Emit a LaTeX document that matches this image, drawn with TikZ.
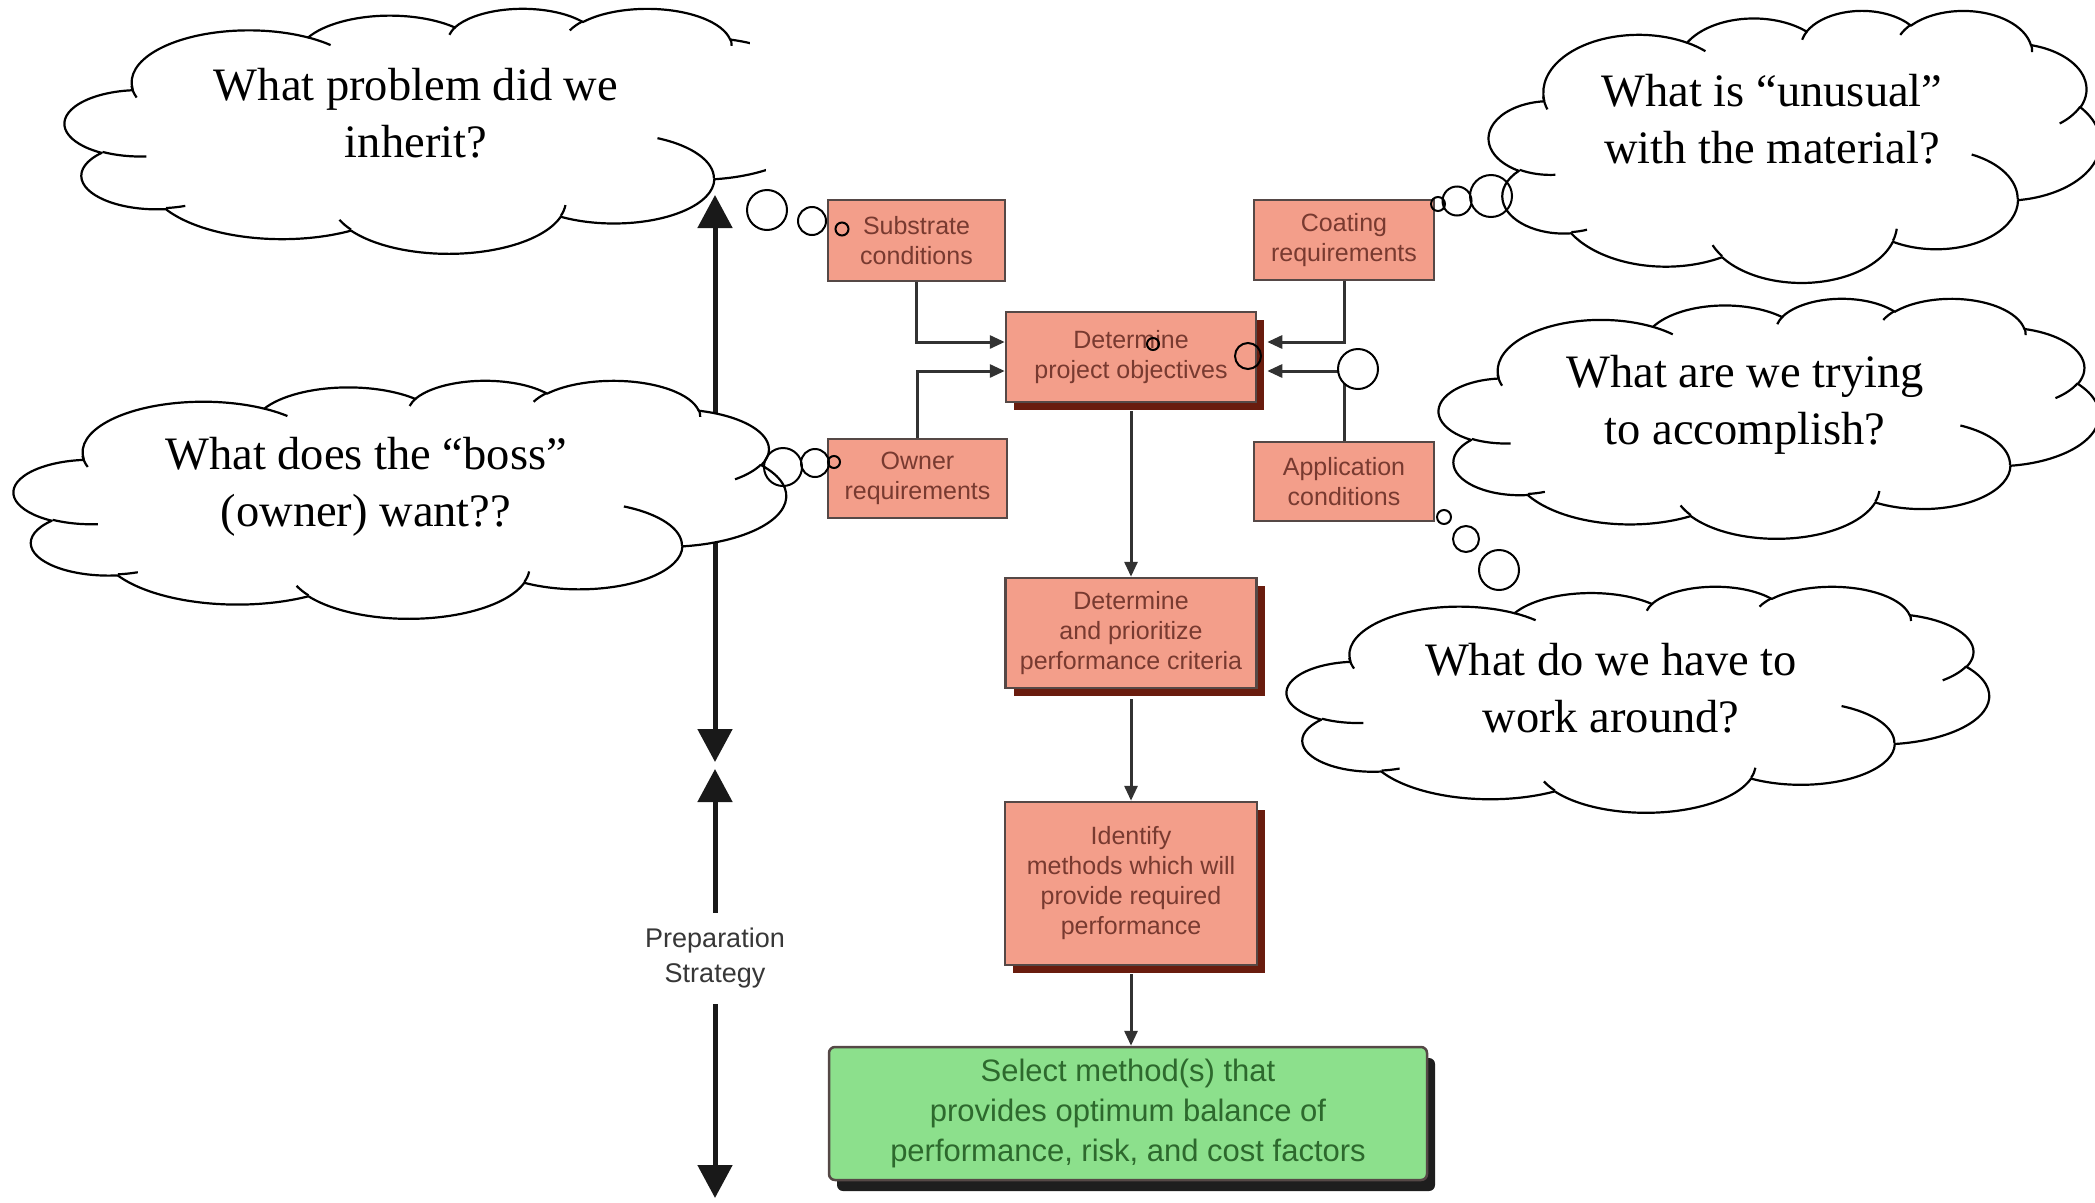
\documentclass[tikz,border=0pt]{standalone}
\usepackage{fontspec}
\setmainfont{Liberation Serif}
\newfontfamily\chartfont{Liberation Sans}
\usetikzlibrary{arrows.meta,calc,shadows}

\definecolor{boxfill}{RGB}{243,158,138}
\definecolor{boxline}{RGB}{85,72,70}
\definecolor{boxtext}{RGB}{120,58,48}
\definecolor{shadowred}{RGB}{105,28,14}
\definecolor{selfill}{RGB}{140,224,140}
\definecolor{seltext}{RGB}{45,105,45}
\definecolor{selshadow}{RGB}{30,30,30}
\definecolor{connline}{RGB}{50,50,50}
\definecolor{labelgray}{RGB}{55,55,55}

% Cloud outline: elliptical arcs given by visual start angle and sweep,
% converted to the parametric angles used by TikZ arcs.
\newcommand\defarc[6]{%
  \pgfmathsetmacro#1{atan2((#3)*sin(#5),(#4)*cos(#5))}%
  \pgfmathsetmacro\arctmpend{atan2((#3)*sin((#5)+(#6)),(#4)*cos((#5)+(#6)))}%
  \pgfmathsetmacro#2{mod(\arctmpend-(#1)+720,360)}%
}
\defarc\arcAs\arcAd{675.3}{919.0}{-190.48748}{123.78053}
\defarc\arcBs\arcBd{533.3}{726.7}{-144.10238}{89.94523}
\defarc\arcCs\arcCd{436.5}{594.5}{-145.80792}{99.72302}
\defarc\arcDs\arcDd{485.7}{659.5}{-130.98607}{117.24173}
\defarc\arcEs\arcEd{533.3}{727.3}{-78.70888}{109.02692}
\defarc\arcFs\arcFd{677.5}{922.0}{-46.26725}{130.26900}
\defarc\arcGs\arcGd{578.5}{786.7}{0.62502}{114.03333}
\defarc\arcHs\arcHd{675.2}{921.5}{22.45160}{115.17255}
\defarc\arcIs\arcId{772.0}{1054.3}{66.24263}{75.71102}
\defarc\arcJs\arcJd{436.0}{591.8}{-274.94208}{146.73557}
\defarc\arcKs\arcKd{434.5}{594.5}{-246.82850}{152.51885}
% inner puff strokes
\defarc\stbAs\stbAd{434.5}{594.5}{86.74200}{26.42950}
\defarc\stbBs\stbBd{436.0}{591.8}{73.61047}{11.44747}
\defarc\stbCs\stbCd{675.2}{921.5}{137.62415}{14.08110}
\defarc\stbDs\stbDd{675.2}{921.5}{6.45327}{15.99835}
\defarc\stbEs\stbEd{578.5}{786.7}{-70.29235}{70.91737}
\defarc\stbFs\stbFd{533.3}{727.3}{30.31803}{27.75150}
\defarc\stbGs\stbGd{485.7}{659.5}{-13.74433}{14.85890}
\defarc\stbHs\stbHd{485.7}{659.5}{-149.18145}{18.19537}
\defarc\stbIs\stbId{436.5}{594.5}{-163.49427}{17.68635}
\defarc\stbJs\stbJd{675.3}{919.0}{-66.70695}{12.31935}
\defarc\stbKs\stbKd{675.3}{919.0}{156.62005}{17.07483}

% #1 left, #2 top, #3 width, #4 height (in px units)
\newcommand\thoughtcloud[4]{%
  \begin{scope}[shift={(#1pt,-#2pt)}, x=1pt, y=1pt, xscale=#3/4320, yscale=-#4/4320]
    \filldraw[cloudline, fill=white] (390,1437)
      arc[start angle=\arcAs, delta angle=\arcAd, x radius=675.3pt, y radius=919pt]
      arc[start angle=\arcBs, delta angle=\arcBd, x radius=533.3pt, y radius=726.7pt]
      arc[start angle=\arcCs, delta angle=\arcCd, x radius=436.5pt, y radius=594.5pt]
      arc[start angle=\arcDs, delta angle=\arcDd, x radius=485.7pt, y radius=659.5pt]
      arc[start angle=\arcEs, delta angle=\arcEd, x radius=533.3pt, y radius=727.3pt]
      arc[start angle=\arcFs, delta angle=\arcFd, x radius=677.5pt, y radius=922pt]
      arc[start angle=\arcGs, delta angle=\arcGd, x radius=578.5pt, y radius=786.7pt]
      arc[start angle=\arcHs, delta angle=\arcHd, x radius=675.2pt, y radius=921.5pt]
      arc[start angle=\arcIs, delta angle=\arcId, x radius=772pt, y radius=1054.3pt]
      arc[start angle=\arcJs, delta angle=\arcJd, x radius=436pt, y radius=591.8pt]
      arc[start angle=\arcKs, delta angle=\arcKd, x radius=434.5pt, y radius=594.5pt]
      -- cycle;
    \draw[cloudline]
      (469.3,2617.7) arc[start angle=\stbAs, delta angle=\stbAd, x radius=434.5pt, y radius=594.5pt]
      (692.8,3489.9) arc[start angle=\stbBs, delta angle=\stbBd, x radius=436pt, y radius=591.8pt]
      (1647.8,3909.0) arc[start angle=\stbCs, delta angle=\stbCd, x radius=675.2pt, y radius=921.5pt]
      (2882.7,3475.1) arc[start angle=\stbDs, delta angle=\stbDd, x radius=675.2pt, y radius=921.5pt]
      (3412.9,2295.4) arc[start angle=\stbEs, delta angle=\stbEd, x radius=578.5pt, y radius=786.7pt]
      (4179.8,1535.4) arc[start angle=\stbFs, delta angle=\stbFd, x radius=533.3pt, y radius=727.3pt]
      (3832.4,542.6) arc[start angle=\stbGs, delta angle=\stbGd, x radius=485.7pt, y radius=659.5pt]
      (2907.8,395.2) arc[start angle=\stbHs, delta angle=\stbHd, x radius=485.7pt, y radius=659.5pt]
      (2214.1,472.0) arc[start angle=\stbIs, delta angle=\stbId, x radius=436.5pt, y radius=594.5pt]
      (1400.0,519.2) arc[start angle=\stbJs, delta angle=\stbJd, x radius=675.3pt, y radius=919pt]
      (412.7,1578.9) arc[start angle=\stbKs, delta angle=\stbKd, x radius=675.3pt, y radius=919pt];
  \end{scope}}

\begin{document}
\begin{tikzpicture}[x=1pt,y=-1pt,
  cloudline/.style={line width=2.2pt, line join=round},
  ring/.style={draw, line width=2pt},
  bubble/.style={draw, line width=2pt, fill=white},
  qtext/.style={align=center, inner sep=0pt, font=\fontsize{46.5}{57}\selectfont},
  flowbox/.style={draw=boxline, line width=2.5pt, fill=boxfill, text=boxtext,
    align=center, inner sep=0pt, font=\chartfont\fontsize{25}{30}\selectfont},
  bigshadow/.style={drop shadow={shadow xshift=8pt, shadow yshift=-8pt,
    fill=shadowred, opacity=1}},
  selbox/.style={draw=boxline, line width=2.5pt, fill=selfill, text=seltext,
    rounded corners=6pt, align=center, inner sep=0pt,
    font=\chartfont\fontsize{31}{40}\selectfont,
    drop shadow={shadow xshift=8pt, shadow yshift=-11pt, fill=selshadow, opacity=1}},
  conn/.style={draw=connline, line width=3pt, -{Triangle[width=13pt,length=15pt]}},
  axisline/.style={draw=black!90, line width=5pt,
    {Triangle[width=34pt,length=33pt]}-{Triangle[width=34pt,length=33pt]}},
]
\useasboundingbox (0,0) rectangle (2095,1202);
\clip (0,0) rectangle (2095,1202);

% thought behind the flow chart
\thoughtcloud{65}{8}{750}{245}
\node[qtext] (q1) at (416,113) {What problem did we\\inherit?};
\fill[white] (750,0) -- (750,120) -- (766,160) -- (766,262) -- (840,262) -- (840,0) -- cycle;

% flow chart
\node[flowbox, minimum width=177pt, minimum height=81pt] (sub) at (916.5,240.5) {Substrate\\conditions};
\node[flowbox, minimum width=179pt, minimum height=79pt] (own) at (917.5,478.5) {Owner\\requirements};
\node[flowbox, minimum width=180pt, minimum height=80pt] (coat) at (1344,240) {Coating\\requirements};
\node[flowbox, minimum width=180pt, minimum height=79pt] (app) at (1344,481.5) {Application\\conditions};
\node[flowbox, bigshadow, minimum width=250pt, minimum height=90pt] (obj) at (1131,357) {Determine\\project objectives};
\node[flowbox, bigshadow, minimum width=251pt, minimum height=110pt] (crit) at (1131,633) {Determine\\and prioritize\\performance criteria};
\node[flowbox, bigshadow, minimum width=252pt, minimum height=163pt] (meth) at (1131,883.5) {Identify\\methods which will\\provide required\\performance};
\node[selbox, minimum width=598pt, minimum height=133pt] (sel) at (1128,1113.5) {Select method(s) that\\provides optimum balance of\\performance, risk, and cost factors};

\draw[conn] (sub.south) |- ([yshift=15pt]obj.west);
\draw[conn] (own.north) |- ([yshift=-14pt]obj.west);
\draw[conn] (coat.south) |- ([xshift=10pt,yshift=15pt]obj.east);
\draw[conn] (app.north) |- ([xshift=10pt,yshift=-14pt]obj.east);
\draw[conn] ([yshift=-8pt]obj.south) -- (crit.north);
\draw[conn] ([yshift=-10pt]crit.south) -- (meth.north);
\draw[conn] ([yshift=-8pt]meth.south) -- (meth.south |- sel.north);

% preparation strategy axis
\coordinate (axtop) at (715,195);
\coordinate (axmidd) at (715,762);
\coordinate (axmidu) at (715,769);
\coordinate (axbot) at (715,1198);
\draw[axisline] (axtop) -- (axmidd);
\draw[axisline] (axmidu) -- (axbot);
\node[fill=white, inner sep=0pt, minimum height=91pt, minimum width=150pt, align=center,
  text=labelgray, font=\chartfont\fontsize{27}{35}\selectfont] (prep) at (715,958) {Preparation\\Strategy};

% thoughts in front
\thoughtcloud{14}{380}{772}{238}
\node[qtext] (q3) at (366,487) {What does the “boss”\\(owner) want??};
\thoughtcloud{1489}{10}{611}{272}
\node[qtext] (q2) at (1772,119.5) {What is “unusual”\\with the material?};
\thoughtcloud{1439}{298}{660}{240}
\node[qtext] (q4) at (1745,405) {What are we trying\\to accomplish?};
\thoughtcloud{1287}{586}{702}{226}
\node[qtext] (q5) at (1611,688) {What do we have to\\work around?};

% thought bubbles
\path[ring] (767,210) circle[radius=20pt] (812,221) circle[radius=14pt] (842,229) circle[radius=6.5pt];
\path[ring] (783,467) circle[radius=19pt] (815,463) circle[radius=14pt] (834,462) circle[radius=6pt];
\path[ring] (1438,204) circle[radius=7pt] (1457,201) circle[radius=14.5pt] (1491,196) circle[radius=21pt];
\path[ring] (1153,344) circle[radius=6pt] (1248,356) circle[radius=13pt];
\path[bubble] (1358,369) circle[radius=20pt];
\path[ring] (1444,517) circle[radius=7pt] (1466,539) circle[radius=13pt] (1499,570) circle[radius=20pt];
\end{tikzpicture}
\end{document}
